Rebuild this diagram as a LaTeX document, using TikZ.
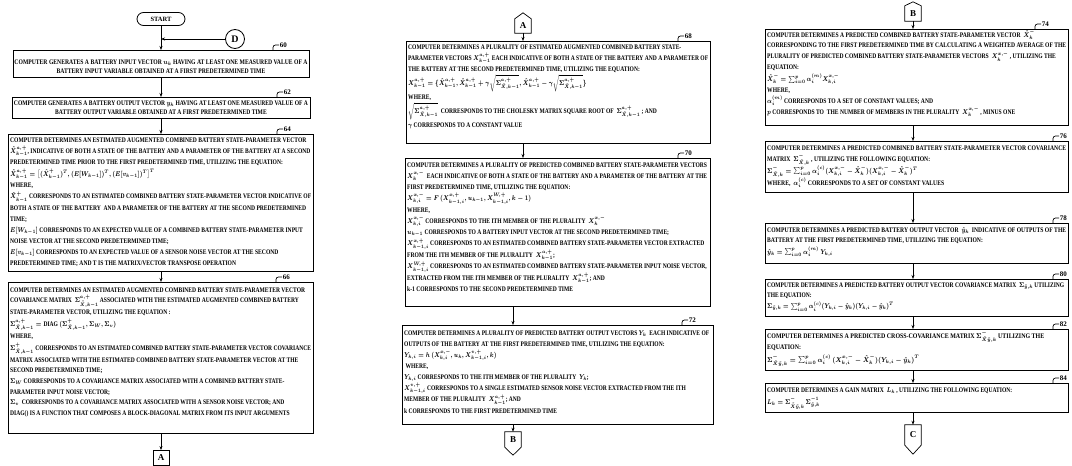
\documentclass[tikz,border=0pt]{standalone}
\usepackage{amsmath}
\usepackage{graphicx}
\usepackage{fontspec}
\setmainfont{Liberation Serif}
\usetikzlibrary{arrows.meta}
\newcommand\refmark[3]{\draw[ln, rounded corners=2.5pt] ([xshift=#2pt]#1.north east) -- ++(0,-5) -- ++(6,0) node[lbl] {#3};}
\newcommand\boxtext[3]{\resizebox{#1}{\height}{\fontsize{7}{#2}\selectfont\bfseries\boldmath\begin{tabular}[t]{@{}l@{}}#3\end{tabular}}}
\newcommand\cboxtext[3]{\resizebox{#1}{\height}{\fontsize{7}{#2}\selectfont\bfseries\boldmath\begin{tabular}[t]{@{}c@{}}#3\end{tabular}}}
\begin{document}
\begin{tikzpicture}[x=1pt,y=-1pt,
 box/.style={draw, line width=0.8pt, inner sep=0pt, outer sep=0pt, anchor=north west},
 txt/.style={inner sep=0pt, anchor=base west},
 ctxt/.style={inner sep=0pt, anchor=base},
 arr/.style={line width=0.7pt, -{Stealth[length=4pt,width=3pt]}},
 ln/.style={line width=0.7pt},
 lbl/.style={font=\fontsize{7}{7}\selectfont\bfseries, inner sep=0.5pt, anchor=west},
 conn/.style={inner sep=0pt, minimum width=16pt, font=\fontsize{9}{9}\selectfont\bfseries}
]
\useasboundingbox (0,0) rectangle (1072,466);
\fill[white] (0,0) rectangle (1072,466);

% ---------- left column ----------
\node[draw, line width=0.8pt, rounded corners=6.5pt, minimum width=48pt, minimum height=13pt, inner sep=0pt, font=\fontsize{6.5}{7}\selectfont\bfseries] (start) at (161,19) {START};
\node[draw, circle, line width=0.8pt, minimum size=19pt, inner sep=0pt, font=\fontsize{10}{10}\selectfont\bfseries] (dc) at (235,39) {D};
\coordinate (jD) at (start.south |- dc.west);

\node[box, minimum width=296pt, minimum height=27pt] (b60) at (13,50) {};
\node[ctxt] (t60) at ([yshift=-14pt]b60.north) {\cboxtext{293pt}{9}{COMPUTER GENERATES A BATTERY INPUT VECTOR \(u_k\) HAVING AT LEAST ONE MEASURED VALUE OF A\\ BATTERY INPUT VARIABLE OBTAINED AT A FIRST PREDETERMINED TIME}};

\node[box, minimum width=298pt, minimum height=21pt] (b62) at (12,97) {};
\node[ctxt] (t62) at ([yshift=-8.5pt]b62.north) {\cboxtext{294pt}{8.8}{COMPUTER GENERATES A BATTERY OUTPUT VECTOR \(y_k\) HAVING AT LEAST ONE MEASURED VALUE OF A\\ BATTERY OUTPUT VARIABLE OBTAINED AT A FIRST PREDETERMINED TIME}};

\node[box, minimum width=305pt, minimum height=137pt] (b64) at (8,134) {};
\node[txt] (t64) at ([shift={(2pt,-8pt)}]b64.north west) {\boxtext{301pt}{11}{COMPUTER DETERMINES AN ESTIMATED AUGMENTED COMBINED BATTERY STATE-PARAMETER VECTOR\\
\(\hat{X}^{a,+}_{k-1}\), INDICATIVE OF BOTH A STATE OF THE BATTERY AND A PARAMETER OF THE BATTERY AT A SECOND\\
PREDETERMINED TIME PRIOR TO THE FIRST PREDETERMINED TIME, UTILIZING THE EQUATION:\\[1pt]
\(\hat{X}^{a,+}_{k-1}=\big[(\hat{X}^{+}_{k-1})^{T},(E[W_{k-1}])^{T},(E[v_{k-1}])^{T}\big]^{T}\)\\
WHERE,\\
\(\hat{X}^{+}_{k-1}\) CORRESPONDS TO AN ESTIMATED COMBINED BATTERY STATE-PARAMETER VECTOR INDICATIVE OF\\
BOTH A STATE OF THE BATTERY\ \ AND A PARAMETER OF THE BATTERY AT THE SECOND PREDETERMINED\\
TIME;\\
\(E[W_{k-1}]\) CORRESPONDS TO AN EXPECTED VALUE OF A COMBINED BATTERY STATE-PARAMETER INPUT\\
NOISE VECTOR AT THE SECOND PREDETERMINED TIME;\\
\(E[v_{k-1}]\) CORRESPONDS TO AN EXPECTED VALUE OF A SENSOR NOISE VECTOR AT THE SECOND\\
PREDETERMINED TIME; AND T IS THE MATRIX/VECTOR TRANSPOSE OPERATION}};

\node[box, minimum width=305pt, minimum height=151pt] (b66) at (8,282) {};
\node[txt] (t66) at ([shift={(2pt,-10pt)}]b66.north west) {\boxtext{301pt}{10.6}{COMPUTER DETERMINES AN ESTIMATED AUGMENTED COMBINED BATTERY STATE-PARAMETER VECTOR\\
COVARIANCE MATRIX\ \ \(\Sigma^{a,+}_{\tilde{X},k-1}\) ASSOCIATED WITH THE ESTIMATED AUGMENTED COMBINED BATTERY\\
STATE-PARAMETER VECTOR, UTILIZING THE EQUATION :\\[1pt]
\(\Sigma^{a,+}_{\tilde{X},k-1}=\mbox{DIAG}\,(\Sigma^{+}_{\tilde{X},k-1},\Sigma_{W},\Sigma_{v})\)\\
WHERE,\\[1pt]
\(\Sigma^{+}_{\tilde{X},k-1}\) CORRESPONDS TO AN ESTIMATED COMBINED BATTERY STATE-PARAMETER VECTOR COVARIANCE\\
MATRIX ASSOCIATED WITH THE ESTIMATED COMBINED BATTERY STATE-PARAMETER VECTOR AT THE\\
SECOND PREDETERMINED TIME;\\
\(\Sigma_{W}\) CORRESPONDS TO A COVARIANCE MATRIX ASSOCIATED WITH A COMBINED BATTERY STATE-\\
PARAMETER INPUT NOISE VECTOR;\\
\(\Sigma_{v}\)\ \ CORRESPONDS TO A COVARIANCE MATRIX ASSOCIATED WITH A SENSOR NOISE VECTOR; AND\\
DIAG() IS A FUNCTION THAT COMPOSES A BLOCK-DIAGONAL MATRIX FROM ITS INPUT ARGUMENTS}};

\node[draw, conn, line width=0.8pt, minimum height=15pt] (cA1) at (161,458) {A};

\draw[arr] (start.south) -- (start.south |- b60.north);
\draw[arr] (dc.west) -- (jD);
\draw[arr] (b60.south -| start.south) -- (b62.north -| start.south);
\draw[arr] (b62.south -| start.south) -- (b64.north -| start.south);
\draw[arr] (b64.south -| start.south) -- (b66.north -| start.south);
\draw[arr] (b66.south -| start.south) -- (cA1.north);

\refmark{b60}{-36}{60}
\refmark{b62}{-33}{62}
\refmark{b64}{-36}{64}
\refmark{b66}{-37}{66}

% ---------- middle column ----------
\node[conn, minimum height=14pt] (cA2) at (523,26) {A};
\draw[ln] (cA2.south west) -- (cA2.north west) -- ([yshift=6pt]cA2.north) -- (cA2.north east) -- (cA2.south east) -- cycle;

\node[box, minimum width=304pt, minimum height=102pt] (b68) at (406,41) {};
\node[txt] (t68) at ([shift={(2pt,-8pt)}]b68.north west) {\boxtext{300pt}{11}{COMPUTER DETERMINES A PLURALITY OF ESTIMATED AUGMENTED COMBINED BATTERY STATE-\\
PARAMETER VECTORS \(X^{a,+}_{k-1}\) EACH INDICATIVE OF BOTH A STATE OF THE BATTERY AND A PARAMETER OF\\
THE BATTERY AT THE SECOND PREDETERMINED TIME, UTILIZING THE EQUATION:\\
\(X^{a,+}_{k-1}=\{\hat{X}^{a,+}_{k-1},\hat{X}^{a,+}_{k-1}+\gamma\sqrt{\Sigma^{a,+}_{\tilde{X},k-1}},\hat{X}^{a,+}_{k-1}-\gamma\sqrt{\Sigma^{a,+}_{\tilde{X},k-1}}\}\)\\
WHERE,\\
\(\sqrt{\Sigma^{a,+}_{\tilde{X},k-1}}\)\ \ CORRESPONDS TO THE CHOLESKY MATRIX SQUARE ROOT OF\ \ \(\Sigma^{a,+}_{\tilde{X},k-1}\) ; AND\\
\(\gamma\) CORRESPONDS TO A CONSTANT VALUE}};

\node[box, minimum width=305pt, minimum height=148pt] (b70) at (405,158) {};
\node[txt] (t70) at ([shift={(2pt,-9pt)}]b70.north west) {\boxtext{300pt}{11.2}{COMPUTER DETERMINES A PLURALITY OF PREDICTED COMBINED BATTERY STATE-PARAMETER VECTORS\\
\(X^{x,-}_{k}\)\ \ EACH INDICATIVE OF BOTH A STATE OF THE BATTERY AND A PARAMETER OF THE BATTERY AT THE\\
FIRST PREDETERMINED TIME, UTILIZING THE EQUATION:\\
\(X^{x,-}_{k,i}=F\,(X^{x,+}_{k-1,i},u_{k-1},X^{W,+}_{k-1,i},k-1)\)\\
WHERE,\\
\(X^{x,-}_{k,i}\) CORRESPONDS TO THE ITH MEMBER OF THE PLURALITY\ \ \(X^{x,-}_{k}\)\\
\(u_{k-1}\) CORRESPONDS TO A BATTERY INPUT VECTOR AT THE SECOND PREDETERMINED TIME;\\
\(X^{x,+}_{k-1,i}\) CORRESPONDS TO AN ESTIMATED COMBINED BATTERY STATE-PARAMETER VECTOR EXTRACTED\\
FROM THE ITH MEMBER OF THE PLURALITY\ \ \(X^{a,+}_{k-1}\);\\
\(X^{W,+}_{k-1,i}\) CORRESPONDS TO AN ESTIMATED COMBINED BATTERY STATE-PARAMETER INPUT NOISE VECTOR,\\
EXTRACTED FROM THE ITH MEMBER OF THE PLURALITY\ \ \(X^{a,+}_{k-1}\); AND\\
k-1 CORRESPONDS TO THE SECOND PREDETERMINED TIME}};

\node[box, minimum width=311pt, minimum height=99pt] (b72) at (402,325) {};
\node[txt] (t72) at ([shift={(2pt,-10pt)}]b72.north west) {\boxtext{305pt}{11}{COMPUTER DETERMINES A PLURALITY OF PREDICTED BATTERY OUTPUT VECTORS \(Y_{k}\)\ \ EACH INDICATIVE OF\\
OUTPUTS OF THE BATTERY AT THE FIRST PREDETERMINED TIME, UTILIZING THE EQUATION:\\
\(Y_{k,i}=h\,(X^{x,-}_{k,i},u_{k},X^{v,+}_{k-1,i},k)\)\\
\ WHERE,\\
\(Y_{k,i}\) CORRESPONDS TO THE ITH MEMBER OF THE PLURALITY\ \ \(Y_{k}\);\\
\(X^{v,+}_{k-1,i}\) CORRESPONDS TO A SINGLE ESTIMATED SENSOR NOISE VECTOR EXTRACTED FROM THE ITH\\
MEMBER OF THE PLURALITY\ \ \(X^{a,+}_{k-1}\); AND\\
k CORRESPONDS TO THE FIRST PREDETERMINED TIME}};

\node[conn, minimum height=15pt] (cB1) at (513,439.5) {B};
\draw[ln] (cB1.north west) -- (cB1.south west) -- ([yshift=-8pt]cB1.south) -- (cB1.south east) -- (cB1.north east) -- cycle;

\draw[arr] (cA2.south) -- (cA2.south |- b68.north);
\draw[arr] (b68.south -| cA2.south) -- (b70.north -| cA2.south);
\draw[arr] (b70.south -| cB1.north) -- (b72.north -| cB1.north);
\draw[arr] (b72.south -| cB1.north) -- (cB1.north);

\refmark{b68}{-32}{68}
\refmark{b70}{-32}{70}
\refmark{b72}{-31}{72}

% ---------- right column ----------
\node[conn, minimum height=15pt] (cB2) at (913,13.5) {B};
\draw[ln] (cB2.south west) -- (cB2.north west) -- ([yshift=4pt]cB2.north) -- (cB2.north east) -- (cB2.south east) -- cycle;

\node[box, minimum width=303pt, minimum height=96pt] (b74) at (765,29) {};
\node[txt] (t74) at ([shift={(2pt,-8pt)}]b74.north west) {\boxtext{299pt}{10.9}{COMPUTER DETERMINES A PREDICTED COMBINED BATTERY STATE-PARAMETER VECTOR\ \ \(\hat{X}^{-}_{k}\)\\
CORRESPONDING TO THE FIRST PREDETERMINED TIME BY CALCULATING A WEIGHTED AVERAGE OF THE\\
PLURALITY OF PREDICTED COMBINED BATTERY STATE-PARAMETER VECTORS\ \ \(X^{x,-}_{k}\) , UTILIZING THE\\
EQUATION:\\[1pt]
\(\hat{X}^{-}_{k}=\sum_{i=0}^{p}\alpha^{(m)}_{i}X^{x,-}_{k,i}\)\\
WHERE,\\
\(\alpha^{(m)}_{i}\) CORRESPONDS TO A SET OF CONSTANT VALUES; AND\\
\(p\) CORRESPONDS TO\ \ THE NUMBER OF MEMBERS IN THE PLURALITY\ \ \(X^{x,-}_{k}\) , MINUS ONE}};

\node[box, minimum width=303pt, minimum height=51pt] (b76) at (765,141) {};
\node[txt] (t76) at ([shift={(2pt,-9pt)}]b76.north west) {\boxtext{299pt}{11}{COMPUTER DETERMINES A PREDICTED COMBINED BATTERY STATE-PARAMETER VECTOR COVARIANCE\\
MATRIX\ \ \(\Sigma^{-}_{\tilde{X},k}\) , UTILIZING THE FOLLOWING EQUATION:\\[1pt]
\(\Sigma^{-}_{\tilde{X},k}=\sum_{i=0}^{p}\alpha^{(c)}_{i}(X^{x,-}_{k,i}-\hat{X}^{-}_{k})(X^{x,-}_{k,i}-\hat{X}^{-}_{k})^{T}\)\\
WHERE,\ \ \(\alpha^{(c)}_{i}\) CORRESPONDS TO A SET OF CONSTANT VALUES}};

\node[box, minimum width=303pt, minimum height=40pt] (b78) at (765,223) {};
\node[txt] (t78) at ([shift={(2pt,-9pt)}]b78.north west) {\boxtext{299pt}{10.5}{COMPUTER DETERMINES A PREDICTED BATTERY OUTPUT VECTOR\ \ \(\hat{y}_{k}\)\ \ INDICATIVE OF OUTPUTS OF THE\\
BATTERY AT THE FIRST PREDETERMINED TIME, UTILIZING THE EQUATION:\\[1pt]
\(\hat{y}_{k}=\sum_{i=0}^{p}\alpha^{(m)}_{i}\ Y_{k,i}\)}};

\node[box, minimum width=303pt, minimum height=37pt] (b80) at (765,279) {};
\node[txt] (t80) at ([shift={(2pt,-8pt)}]b80.north west) {\boxtext{297pt}{10}{COMPUTER DETERMINES A PREDICTED BATTERY OUTPUT VECTOR COVARIANCE MATRIX\ \ \(\Sigma_{\tilde{y},k}\) UTILIZING\\
THE EQUATION:\\[1.5pt]
\(\Sigma_{\tilde{y},k}=\sum_{i=0}^{p}\alpha^{(c)}_{i}(Y_{k,i}-\hat{y}_{k})(Y_{k,i}-\hat{y}_{k})^{T}\)}};

\node[box, minimum width=303pt, minimum height=41pt] (b82) at (765,329) {};
\node[txt] (t82) at ([shift={(2pt,-9pt)}]b82.north west) {\boxtext{277pt}{10.5}{COMPUTER DETERMINES A PREDICTED CROSS-COVARIANCE MATRIX \(\Sigma^{-}_{\tilde{X}\tilde{y},k}\) UTILIZING THE\\
EQUATION:\\[1.5pt]
\(\Sigma^{-}_{\tilde{X}\tilde{y},k}=\sum_{i=0}^{p}\alpha^{(c)}_{i}\,(X^{x,-}_{k,i}-\hat{X}^{-}_{k})(Y_{k,i}-\hat{y}_{k})^{T}\)}};

\node[box, minimum width=303pt, minimum height=29pt] (b84) at (765,383) {};
\node[txt] (t84) at ([shift={(2pt,-9pt)}]b84.north west) {\boxtext{245pt}{11}{COMPUTER DETERMINES A GAIN MATRIX\ \ \(L_{k}\) , UTILIZING THE FOLLOWING EQUATION:\\[1.5pt]
\(L_{k}=\Sigma^{-}_{\tilde{X}\tilde{y},k}\,\Sigma^{-1}_{\tilde{y},k}\)}};

\node[conn, minimum height=20pt] (cC) at (913,435) {C};
\draw[ln] (cC.north west) -- (cC.south west) -- ([yshift=-9pt]cC.south) -- (cC.south east) -- (cC.north east) -- cycle;

\draw[arr] (cB2.south) -- (cB2.south |- b74.north);
\draw[arr] (b74.south -| cB2.south) -- (b76.north -| cB2.south);
\draw[arr] (b76.south -| cB2.south) -- (b78.north -| cB2.south);
\draw[arr] (b78.south -| cB2.south) -- (b80.north -| cB2.south);
\draw[arr] (b80.south -| cB2.south) -- (b82.north -| cB2.south);
\draw[arr] (b82.south -| cB2.south) -- (b84.north -| cB2.south);
\draw[arr] (b84.south -| cB2.south) -- (cC.north);

\refmark{b74}{-33}{74}
\refmark{b76}{-15}{76}
\refmark{b78}{-15}{78}
\refmark{b80}{-15}{80}
\refmark{b82}{-15}{82}
\refmark{b84}{-15}{84}
\end{tikzpicture}
\end{document}
